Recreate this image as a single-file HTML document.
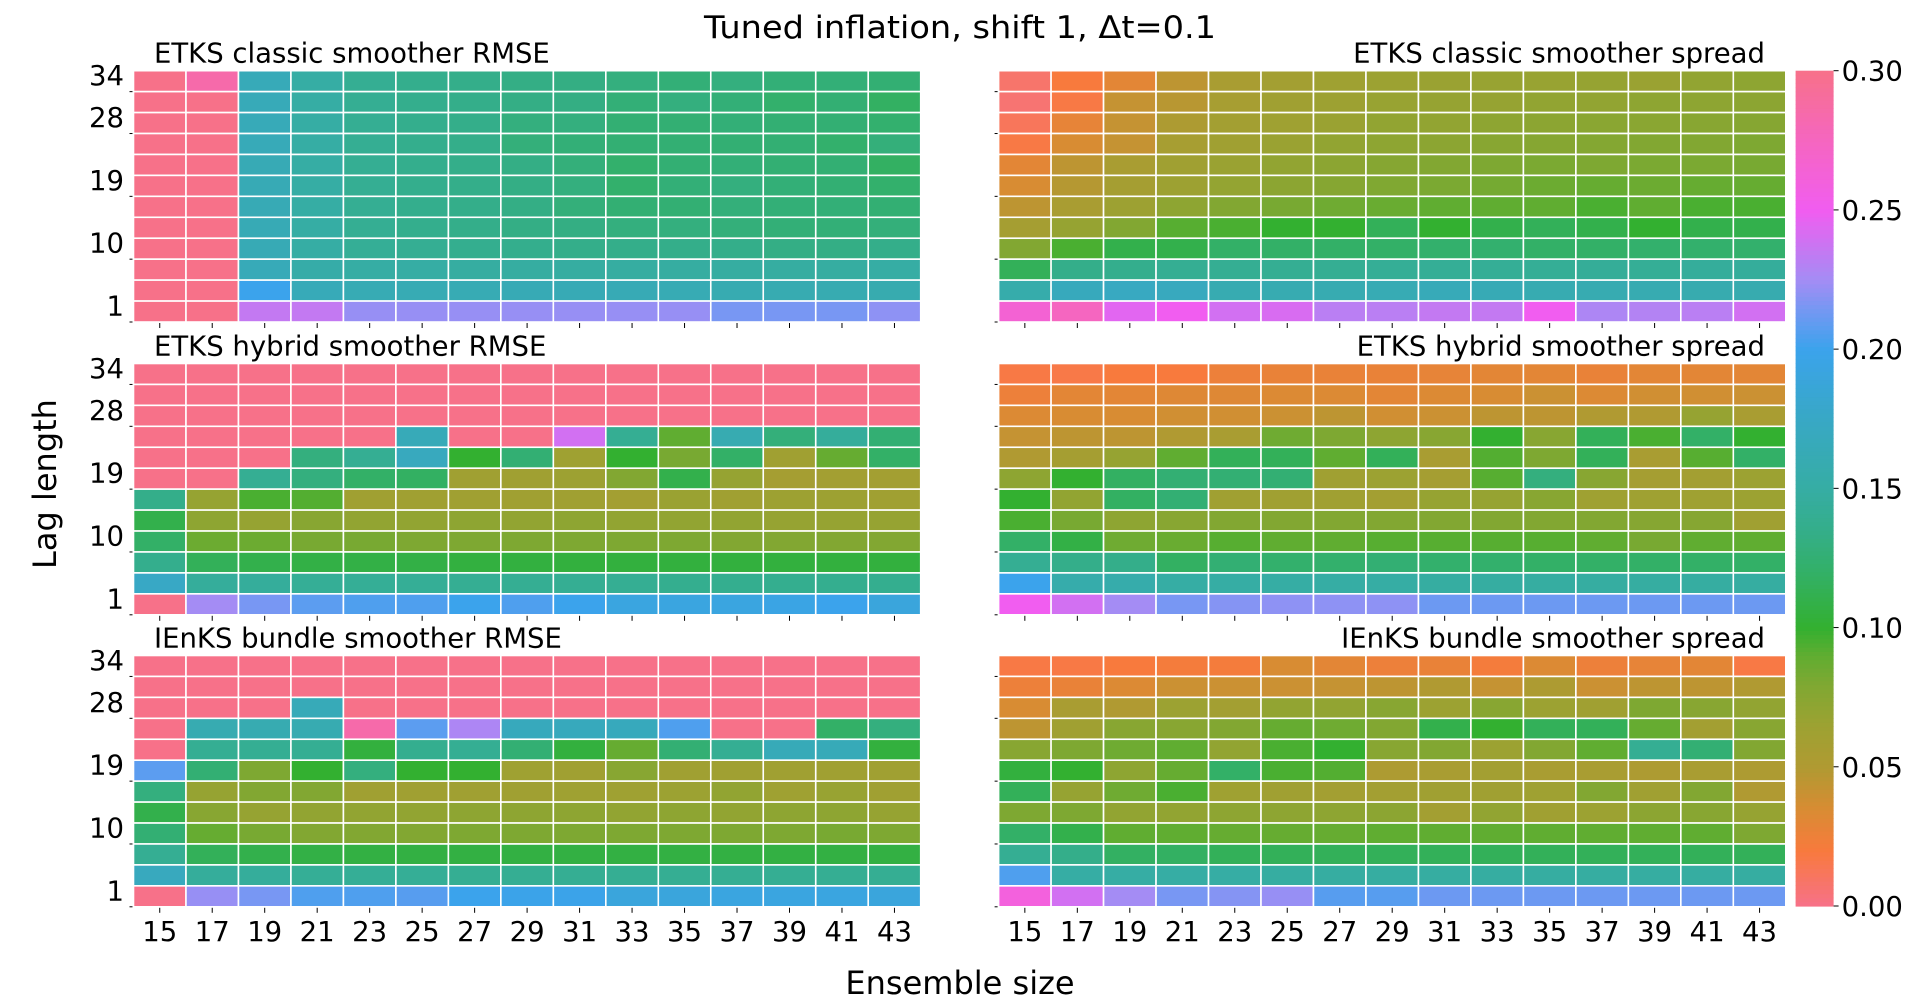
<!DOCTYPE html>
<html><head><meta charset="utf-8"><style>
html,body{margin:0;padding:0;background:#fff;}
svg{display:block;font-family:"DejaVu Sans","Liberation Sans",sans-serif;}
</style></head><body>
<svg id="chart" width="1920" height="1008" viewBox="0 0 1920 1008">
<text x="960" y="38" font-size="31" text-anchor="middle" textLength="512" lengthAdjust="spacingAndGlyphs">Tuned inflation, shift 1, Δt=0.1</text>
<text x="0" y="0" font-size="32" text-anchor="middle" transform="translate(56,484) rotate(-90)">Lag length</text>
<text x="960" y="994" font-size="32" text-anchor="middle">Ensemble size</text>
<g id="panels"></g>
<g id="cbar"></g>
</svg>
<script>
const ensembleSizes = [15,17,19,21,23,25,27,29,31,33,35,37,39,41,43];
const lagLengths = [34,31,28,25,22,19,16,13,10,7,4,1];
const yTickLabels = ["34","28","19","10","1"];
const cbarTicks = [0.00,0.05,0.10,0.15,0.20,0.25,0.30];
const titles = ["ETKS classic smoother RMSE","ETKS classic smoother spread","ETKS hybrid smoother RMSE","ETKS hybrid smoother spread","IEnKS bundle smoother RMSE","IEnKS bundle smoother spread"];

const classicRmse = [
[0.30,0.285,0.165,0.15,0.14,0.137,0.135,0.133,0.132,0.13,0.127,0.13,0.127,0.127,0.125],
[0.30,0.30,0.165,0.15,0.14,0.137,0.135,0.133,0.132,0.127,0.13,0.127,0.122,0.125,0.118],
[0.30,0.30,0.165,0.15,0.14,0.137,0.135,0.13,0.13,0.125,0.125,0.127,0.125,0.125,0.123],
[0.30,0.30,0.165,0.15,0.14,0.137,0.135,0.128,0.127,0.125,0.125,0.125,0.125,0.122,0.128],
[0.30,0.30,0.163,0.15,0.14,0.137,0.135,0.133,0.128,0.122,0.125,0.127,0.125,0.125,0.118],
[0.30,0.30,0.163,0.15,0.14,0.137,0.135,0.133,0.13,0.122,0.127,0.13,0.127,0.125,0.122],
[0.30,0.30,0.163,0.15,0.14,0.137,0.135,0.133,0.128,0.125,0.125,0.128,0.127,0.127,0.125],
[0.30,0.30,0.163,0.15,0.14,0.137,0.135,0.133,0.132,0.13,0.13,0.128,0.127,0.127,0.128],
[0.30,0.30,0.163,0.15,0.142,0.14,0.138,0.137,0.135,0.135,0.135,0.135,0.133,0.133,0.135],
[0.30,0.30,0.165,0.153,0.15,0.15,0.148,0.148,0.148,0.148,0.148,0.148,0.148,0.148,0.15],
[0.30,0.30,0.20,0.165,0.162,0.162,0.162,0.163,0.163,0.163,0.162,0.16,0.16,0.16,0.158],
[0.30,0.30,0.235,0.235,0.222,0.222,0.222,0.222,0.222,0.222,0.222,0.215,0.215,0.215,0.22]];
const classicSpread = [
[0.008,0.02,0.03,0.045,0.055,0.06,0.063,0.065,0.066,0.067,0.067,0.068,0.066,0.07,0.072],
[0.006,0.018,0.042,0.047,0.057,0.062,0.064,0.067,0.068,0.068,0.07,0.07,0.072,0.072,0.073],
[0.012,0.028,0.042,0.052,0.06,0.063,0.066,0.07,0.07,0.072,0.073,0.074,0.074,0.075,0.076],
[0.018,0.035,0.042,0.057,0.062,0.066,0.07,0.072,0.073,0.075,0.076,0.077,0.078,0.078,0.08],
[0.03,0.045,0.055,0.062,0.066,0.07,0.073,0.076,0.078,0.08,0.081,0.08,0.081,0.081,0.082],
[0.035,0.048,0.058,0.064,0.069,0.073,0.076,0.079,0.081,0.083,0.086,0.088,0.086,0.088,0.088],
[0.045,0.055,0.064,0.072,0.078,0.082,0.085,0.087,0.09,0.09,0.09,0.095,0.09,0.095,0.095],
[0.058,0.068,0.078,0.092,0.095,0.1,0.1,0.115,0.1,0.11,0.115,0.11,0.1,0.11,0.11],
[0.078,0.095,0.11,0.11,0.12,0.12,0.12,0.12,0.122,0.123,0.12,0.12,0.122,0.122,0.122],
[0.115,0.135,0.137,0.14,0.14,0.14,0.14,0.142,0.142,0.142,0.142,0.143,0.142,0.145,0.145],
[0.155,0.168,0.172,0.17,0.16,0.16,0.16,0.162,0.165,0.163,0.16,0.16,0.16,0.158,0.158],
[0.265,0.275,0.245,0.25,0.24,0.242,0.232,0.232,0.235,0.235,0.25,0.228,0.23,0.232,0.24]];
const hybridRmse = [
[0.3,0.3,0.3,0.3,0.3,0.3,0.3,0.3,0.3,0.3,0.3,0.3,0.3,0.3,0.3],
[0.3,0.3,0.3,0.3,0.3,0.3,0.3,0.3,0.3,0.3,0.3,0.3,0.3,0.3,0.3],
[0.3,0.3,0.3,0.3,0.3,0.3,0.3,0.3,0.3,0.3,0.3,0.3,0.3,0.3,0.3],
[0.3,0.3,0.3,0.3,0.3,0.165,0.3,0.3,0.24,0.14,0.09,0.16,0.128,0.145,0.125],
[0.3,0.3,0.3,0.13,0.14,0.17,0.1,0.125,0.063,0.1,0.082,0.12,0.062,0.088,0.12],
[0.3,0.3,0.14,0.13,0.12,0.118,0.062,0.062,0.064,0.078,0.11,0.068,0.058,0.06,0.06],
[0.135,0.068,0.095,0.093,0.062,0.062,0.062,0.062,0.062,0.06,0.066,0.062,0.064,0.064,0.062],
[0.11,0.072,0.068,0.075,0.07,0.07,0.072,0.07,0.072,0.07,0.07,0.07,0.068,0.068,0.068],
[0.12,0.086,0.086,0.082,0.082,0.08,0.08,0.08,0.08,0.08,0.08,0.078,0.078,0.078,0.078],
[0.137,0.115,0.11,0.108,0.108,0.108,0.106,0.106,0.105,0.105,0.105,0.105,0.105,0.105,0.105],
[0.175,0.145,0.145,0.142,0.142,0.142,0.14,0.14,0.14,0.14,0.138,0.138,0.138,0.138,0.138],
[0.3,0.225,0.215,0.208,0.205,0.205,0.2,0.205,0.2,0.192,0.192,0.192,0.195,0.2,0.19]];
const hybridSpread = [
[0.018,0.017,0.02,0.02,0.025,0.027,0.027,0.027,0.028,0.03,0.03,0.027,0.03,0.03,0.03],
[0.025,0.03,0.03,0.032,0.032,0.033,0.033,0.03,0.033,0.035,0.04,0.033,0.038,0.038,0.04],
[0.033,0.035,0.035,0.038,0.038,0.04,0.045,0.038,0.04,0.045,0.045,0.05,0.05,0.068,0.055],
[0.042,0.045,0.045,0.05,0.055,0.085,0.08,0.072,0.075,0.1,0.075,0.115,0.095,0.12,0.1],
[0.05,0.058,0.068,0.09,0.115,0.115,0.09,0.115,0.055,0.093,0.08,0.115,0.055,0.092,0.12],
[0.072,0.1,0.118,0.125,0.125,0.125,0.062,0.065,0.058,0.092,0.13,0.075,0.058,0.06,0.065],
[0.1,0.07,0.118,0.125,0.062,0.062,0.062,0.06,0.068,0.068,0.075,0.063,0.063,0.063,0.065],
[0.095,0.082,0.072,0.075,0.078,0.078,0.078,0.078,0.078,0.078,0.078,0.078,0.076,0.076,0.062],
[0.12,0.108,0.085,0.087,0.092,0.09,0.09,0.092,0.092,0.092,0.092,0.09,0.082,0.09,0.09],
[0.14,0.135,0.135,0.118,0.125,0.122,0.122,0.125,0.122,0.122,0.12,0.12,0.12,0.12,0.12],
[0.2,0.155,0.155,0.15,0.15,0.15,0.15,0.15,0.148,0.148,0.148,0.148,0.148,0.148,0.148],
[0.25,0.24,0.225,0.215,0.218,0.22,0.22,0.22,0.212,0.212,0.212,0.212,0.212,0.212,0.212]];
const bundleRmse = [
[0.3,0.3,0.3,0.3,0.3,0.3,0.3,0.3,0.3,0.3,0.3,0.3,0.3,0.3,0.3],
[0.3,0.3,0.3,0.3,0.3,0.3,0.3,0.3,0.3,0.3,0.3,0.3,0.3,0.3,0.3],
[0.3,0.3,0.3,0.165,0.3,0.3,0.3,0.3,0.3,0.3,0.3,0.3,0.3,0.3,0.3],
[0.3,0.16,0.16,0.16,0.285,0.208,0.228,0.168,0.168,0.168,0.205,0.3,0.3,0.12,0.13],
[0.3,0.14,0.14,0.14,0.105,0.138,0.14,0.125,0.105,0.088,0.125,0.14,0.165,0.165,0.105],
[0.208,0.125,0.08,0.1,0.13,0.1,0.1,0.063,0.062,0.075,0.062,0.062,0.062,0.062,0.062],
[0.13,0.068,0.078,0.078,0.062,0.062,0.062,0.062,0.063,0.063,0.065,0.07,0.063,0.067,0.062],
[0.11,0.075,0.068,0.07,0.07,0.07,0.072,0.072,0.072,0.07,0.072,0.07,0.072,0.072,0.068],
[0.125,0.088,0.082,0.078,0.078,0.078,0.08,0.08,0.08,0.08,0.08,0.08,0.08,0.082,0.08],
[0.14,0.115,0.11,0.108,0.107,0.107,0.107,0.107,0.107,0.107,0.107,0.107,0.107,0.107,0.107],
[0.17,0.145,0.145,0.142,0.142,0.142,0.14,0.14,0.14,0.14,0.14,0.14,0.14,0.14,0.14],
[0.3,0.222,0.215,0.205,0.205,0.207,0.2,0.198,0.198,0.19,0.19,0.192,0.192,0.192,0.19]];
const bundleSpread = [
[0.018,0.018,0.02,0.022,0.022,0.035,0.03,0.025,0.027,0.022,0.033,0.025,0.028,0.03,0.018],
[0.025,0.027,0.033,0.04,0.04,0.04,0.042,0.045,0.05,0.042,0.052,0.04,0.045,0.045,0.05],
[0.035,0.055,0.05,0.065,0.06,0.07,0.07,0.075,0.065,0.075,0.065,0.062,0.08,0.075,0.07],
[0.045,0.062,0.075,0.075,0.078,0.088,0.085,0.078,0.11,0.1,0.115,0.115,0.088,0.06,0.075],
[0.075,0.08,0.085,0.09,0.07,0.095,0.1,0.075,0.078,0.065,0.078,0.09,0.14,0.125,0.078],
[0.105,0.1,0.072,0.088,0.12,0.095,0.093,0.052,0.055,0.06,0.055,0.055,0.052,0.055,0.052],
[0.115,0.068,0.085,0.095,0.063,0.062,0.06,0.06,0.062,0.062,0.063,0.078,0.062,0.078,0.05],
[0.08,0.08,0.07,0.07,0.072,0.072,0.072,0.073,0.06,0.07,0.062,0.065,0.073,0.075,0.068],
[0.12,0.11,0.09,0.09,0.088,0.088,0.088,0.09,0.09,0.09,0.09,0.09,0.09,0.09,0.08],
[0.14,0.135,0.118,0.118,0.115,0.115,0.115,0.115,0.115,0.115,0.115,0.115,0.115,0.115,0.115],
[0.205,0.15,0.15,0.15,0.15,0.148,0.148,0.148,0.148,0.148,0.148,0.148,0.148,0.148,0.148],
[0.26,0.24,0.225,0.215,0.218,0.222,0.207,0.207,0.212,0.212,0.212,0.212,0.212,0.212,0.212]];

const panelData = [classicRmse, classicSpread, hybridRmse, hybridSpread, bundleRmse, bundleSpread];
const panelNames = ["classic-rmse","classic-spread","hybrid-rmse","hybrid-spread","bundle-rmse","bundle-spread"];

const stops=[[0,"#f77189"],[0.02,"#f87a3d"],[0.035,"#d88c33"],[0.05,"#b09a32"],[0.065,"#9ca232"],[0.08,"#7ea832"],[0.09,"#60ad31"],[0.10,"#33b030"],[0.12,"#33b067"],[0.135,"#34ae8a"],[0.15,"#36ada4"],[0.175,"#38a8c5"],[0.20,"#3ba3ec"],[0.215,"#7897f3"],[0.225,"#a48cf4"],[0.25,"#f15df0"],[0.275,"#f566c0"],[0.30,"#f77189"]];
function hex(h){return [1,3,5].map(i=>parseInt(h.substr(i,2),16));}
function cmap(v){
  v=Math.max(0,Math.min(0.3,v));
  for(let i=1;i<stops.length;i++){
    if(v<=stops[i][0]){const a=stops[i-1],b=stops[i];const t=(v-a[0])/(b[0]-a[0]);const c1=hex(a[1]),c2=hex(b[1]);
      return "rgb("+c1.map((c,k)=>Math.round(c+(c2[k]-c)*t)).join(",")+")";}
  }
  return stops[stops.length-1][1];
}
const NS="http://www.w3.org/2000/svg";
function mk(tag,attrs,parent){const e=document.createElementNS(NS,tag);for(const k in attrs)e.setAttribute(k,attrs[k]);parent.appendChild(e);return e;}

const colX=[133.5,998.6], panW=787.2;
const rowY=[70.7,363.5,655.5], panH=251.3;
const nC=ensembleSizes.length, nR=lagLengths.length;
const cw=panW/nC, ch=panH/nR;
function xPos(p,i){return colX[p%2]+i*cw;}
function yPos(p,j){return rowY[Math.floor(p/2)]+j*ch;}

const root=document.getElementById("panels");
panelData.forEach((data,p)=>{
  const g=mk("g",{},root);
  
  
  const left=p%2===0;
  const t=mk("text",{x:left?154:1765,y:rowY[Math.floor(p/2)]-8,"font-size":27.5,"text-anchor":left?"start":"end"},g);
  t.textContent=titles[p];
  
  
  data.forEach((row,j)=>row.forEach((v,i)=>{
    const r=mk("rect",{x:xPos(p,i),y:yPos(p,j),width:cw,height:ch,fill:cmap(v),stroke:"#fff","stroke-width":1.6},g);
    
    
  }));
  ensembleSizes.forEach((e,i)=>{
    const cx=xPos(p,i)+cw/2, by=rowY[Math.floor(p/2)]+panH;
    const tk=mk("line",{x1:cx,x2:cx,y1:by+1,y2:by+6,stroke:"#000","stroke-width":1},g);
    
    
    if(p>=4){const lb=mk("text",{x:cx,y:by+34,"font-size":27.5,"text-anchor":"middle"},g);lb.textContent=String(e);
      
      }
  });
  [1,3,6,9,12].forEach(k=>{
    const yy=yPos(p,k);const x0=colX[p%2];
    const tk=mk("line",{x1:x0-4,x2:x0-1,y1:yy,y2:yy,stroke:"#000","stroke-width":1},g);
    
    
  });
  if(left){
    yTickLabels.forEach(lbl=>{
      const j=lagLengths.indexOf(Number(lbl));
      const lb=mk("text",{x:124,y:yPos(p,j)+ch/2+4,"font-size":27.5,"text-anchor":"end"},g);
      lb.textContent=lbl;
      
      
    });
  }
});
const cb=document.getElementById("cbar");


const cbX=1795.6,cbW=38,cbTop=70.7,cbBot=906;
const cbY=v=>cbBot-(v/0.3)*(cbBot-cbTop);
for(let k=0;k<200;k++){
  const v0=0.3*k/200, v1=0.3*(k+1)/200;
  mk("rect",{x:cbX,y:cbY(v1),width:cbW,height:cbY(v0)-cbY(v1)+0.6,fill:cmap((v0+v1)/2)},cb);
}
cbarTicks.forEach(v=>{
  const y=cbY(v);
  mk("line",{x1:cbX+cbW,x2:cbX+cbW+5,y1:y,y2:y,stroke:"#000","stroke-width":1},cb);
  const t=mk("text",{x:cbX+cbW+8,y:y+10,"font-size":27.5},cb);
  t.textContent=v.toFixed(2);
  
  
});
</script>
</body></html>
